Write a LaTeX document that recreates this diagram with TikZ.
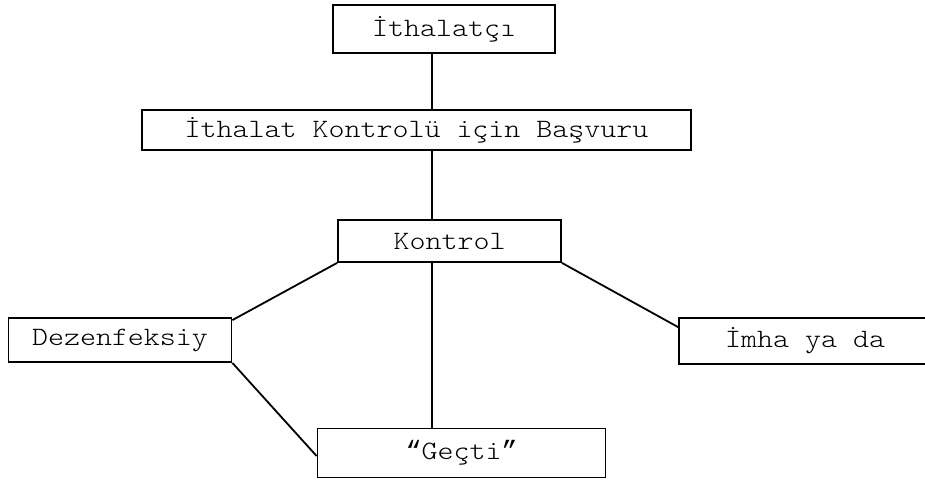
\documentclass[tikz,border=0pt]{standalone}
\usepackage{fontspec}
\setmonofont[FakeStretch=1.15]{Latin Modern Mono Light}
\newfontfamily\tirnak{Liberation Mono}
\usepackage{tikz}

\tikzset{kutu/.style={draw=black, line width=1.8pt, inner sep=0pt, font=\ttfamily\fontsize{26.5}{30}\selectfont}}

\begin{document}
\begin{tikzpicture}[x=1pt, y=-1pt, line width=1.8pt]
						\useasboundingbox (0, 0) rectangle (925, 481);
						\node[kutu, minimum width=222pt, minimum height=48pt] (ithalatci) at (444, 29) {İthalatçı};
						\node[kutu, minimum width=549pt, minimum height=40pt] (basvuru) at (416.5, 130) {İthalat Kontrolü için Başvuru};
						\node[kutu, minimum width=223pt, minimum height=42pt] (kontrol) at (449.5, 241) {Kontrol};
						\node[kutu, minimum width=223pt, minimum height=44pt] (dezenf) at (120, 340) {Dezenfeksiy};
						\node[kutu, minimum width=252pt, minimum height=46pt] (imha) at (805, 341) {İmha ya da};
						\node[kutu, minimum width=288pt, minimum height=49pt] (gecti) at (461.5, 453) {{\tirnak“}Geçti{\tirnak”}};
						\coordinate (eksen) at (432, 0);
						% baglantilar
						\draw (eksen |- ithalatci.south) -- (eksen |- basvuru.north);
						\draw (eksen |- basvuru.south) -- (eksen |- kontrol.north);
						\draw (eksen |- kontrol.south) -- (eksen |- gecti.north);
						\draw (kontrol.south west) -- ([yshift=-3pt]dezenf.north east);
						\draw (kontrol.south east) -- ([yshift=-10pt]imha.north west);
						\draw (dezenf.south east) -- ([yshift=-3pt]gecti.west);
					\end{tikzpicture}
\end{document}
